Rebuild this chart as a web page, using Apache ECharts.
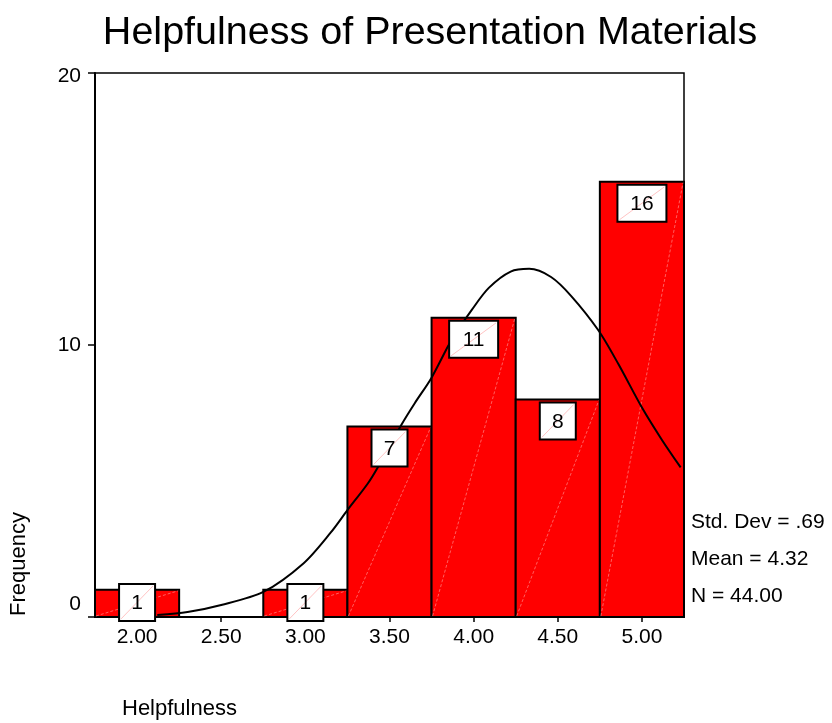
<!DOCTYPE html>
<html>
<head>
<meta charset="utf-8">
<script src="https://cdn.jsdelivr.net/npm/echarts@6/dist/echarts.min.js"></script>
<style>html,body{margin:0;padding:0;background:#fff}#c{width:832px;height:723px}</style>
</head>
<body>
<div id="c"></div>
<script>
const titleText = 'Helpfulness of Presentation Materials';
const xName = 'Helpfulness';
const yName = 'Frequency';
const binCenters = [2.0, 2.5, 3.0, 3.5, 4.0, 4.5, 5.0];
const frequencies = [1, 0, 1, 7, 11, 8, 16];
const binWidth = 0.5;
const xTickValues = [2.0, 2.5, 3.0, 3.5, 4.0, 4.5, 5.0];
const curveX = [2.12, 2.30, 2.50, 2.75, 2.99, 3.15, 3.25, 3.37, 3.43, 3.57, 3.65, 3.75, 3.87, 3.99, 4.09, 4.22, 4.33, 4.46, 4.58, 4.74, 4.86, 5.00, 5.12, 5.23];
const curveY = [0.07, 0.18, 0.44, 0.92, 1.98, 3.1, 3.93, 4.9, 5.5, 7.06, 7.86, 8.8, 10.2, 11.3, 12.1, 12.7, 12.8, 12.5, 11.8, 10.55, 9.3, 7.7, 6.5, 5.5];
const statsLines = ['Std. Dev = .69', 'Mean = 4.32', 'N = 44.00'];

const FONT = '"Liberation Sans", Arial, sans-serif';
const barData = binCenters.map((c, i) => [c, frequencies[i]]).filter(d => d[1] > 0);
const curveData = curveX.map((x, i) => [x, curveY[i]]);

const chart = echarts.init(document.getElementById('c'), null, {renderer: 'canvas'});
chart.setOption({
  animation: false,
  backgroundColor: '#fff',
  title: {
    text: titleText, left: 425, top: 8, textAlign: 'center',
    textStyle: {fontFamily: FONT, fontSize: 39.5, fontWeight: 'normal', color: '#000'}
  },
  grid: {left: 95, right: 148, top: 73, bottom: 106, show: true, borderColor: '#000', borderWidth: 1.5, backgroundColor: 'transparent'},
  xAxis: {
    type: 'value', min: 1.75, max: 5.25,
    axisLine: {show: true, lineStyle: {color: '#000', width: 2}},
    axisTick: {show: true, customValues: xTickValues, length: 5, lineStyle: {color: '#000', width: 1.5}},
    axisLabel: {customValues: xTickValues, formatter: v => v.toFixed(2), color: '#000', fontFamily: FONT, fontSize: 21, margin: 10},
    splitLine: {show: false}
  },
  yAxis: {
    type: 'value', min: 0, max: 20, interval: 10,
    axisLine: {show: true, lineStyle: {color: '#000', width: 2}},
    axisTick: {show: true, length: 7, lineStyle: {color: '#000', width: 1.5}},
    axisLabel: {
      color: '#000', fontFamily: FONT, fontSize: 21, margin: 14,
      formatter: v => v === 0 ? '{z|0}' : (v === 20 ? '{t|20}' : String(v)),
      rich: {z: {fontFamily: FONT, fontSize: 21, color: '#000', padding: [0, 0, 26, 0]},
             t: {fontFamily: FONT, fontSize: 21, color: '#000', padding: [6, 0, 0, 0]}}
    },
    splitLine: {show: false}
  },
  graphic: [
    {type: 'text', left: 8, top: 512, rotation: Math.PI / 2,
     style: {text: yName, font: '22px ' + FONT, fill: '#000'}},
    {type: 'text', left: 122, top: 698,
     style: {text: xName, font: '22px ' + FONT, fill: '#000'}},
    {type: 'text', left: 691, top: 512, style: {text: statsLines[0], font: '21px ' + FONT, fill: '#000'}},
    {type: 'text', left: 691, top: 549, style: {text: statsLines[1], font: '21px ' + FONT, fill: '#000'}},
    {type: 'text', left: 691, top: 586, style: {text: statsLines[2], font: '21px ' + FONT, fill: '#000'}}
  ],
  series: [
    {
      type: 'custom', z: 2, data: barData,
      renderItem: function (params, api) {
        const c = api.value(0), v = api.value(1);
        const p0 = api.coord([c - binWidth / 2, 0]);
        const p1 = api.coord([c + binWidth / 2, v]);
        return {type: 'group', children: [
          {type: 'rect', shape: {x: p0[0], y: p1[1], width: p1[0] - p0[0], height: p0[1] - p1[1]},
           style: {fill: '#ff0000', stroke: '#000', lineWidth: 2}},
          {type: 'line', shape: {x1: p0[0] + 1, y1: p0[1] - 1, x2: p1[0] - 1, y2: p1[1] + 1},
           style: {stroke: 'rgba(255,170,170,0.7)', lineWidth: 0.8, lineDash: [3, 2]}}
        ]};
      }
    },
    {
      type: 'line', z: 3, data: curveData, smooth: 0.3, showSymbol: false,
      lineStyle: {color: '#000', width: 2}
    },
    {
      type: 'custom', z: 4, data: barData,
      renderItem: function (params, api) {
        const c = api.value(0), v = api.value(1);
        const top = api.coord([c, v]);
        const base = api.coord([c, 0]);
        const txt = String(v);
        const w = txt.length > 1 ? 49 : 36, h = 37;
        let y0;
        if (base[1] - top[1] < h + 6) {
          y0 = (top[1] + base[1]) / 2 - h / 2 - 1;
        } else {
          y0 = top[1] + 3;
        }
        const x0 = top[0] - w / 2;
        return {type: 'group', children: [
          {type: 'rect', shape: {x: x0, y: y0, width: w, height: h},
           style: {fill: '#fff', stroke: '#000', lineWidth: 2}},
          {type: 'line', shape: {x1: x0 + 2, y1: y0 + h - 2, x2: x0 + w - 2, y2: y0 + 2},
           style: {stroke: 'rgba(255,160,160,0.8)', lineWidth: 0.8}},
          {type: 'text', x: top[0], y: y0 + h / 2 + 1,
           style: {text: txt, font: '21px ' + FONT, fill: '#000', align: 'center', verticalAlign: 'middle'}}
        ]};
      }
    }
  ]
});
</script>
</body>
</html>
